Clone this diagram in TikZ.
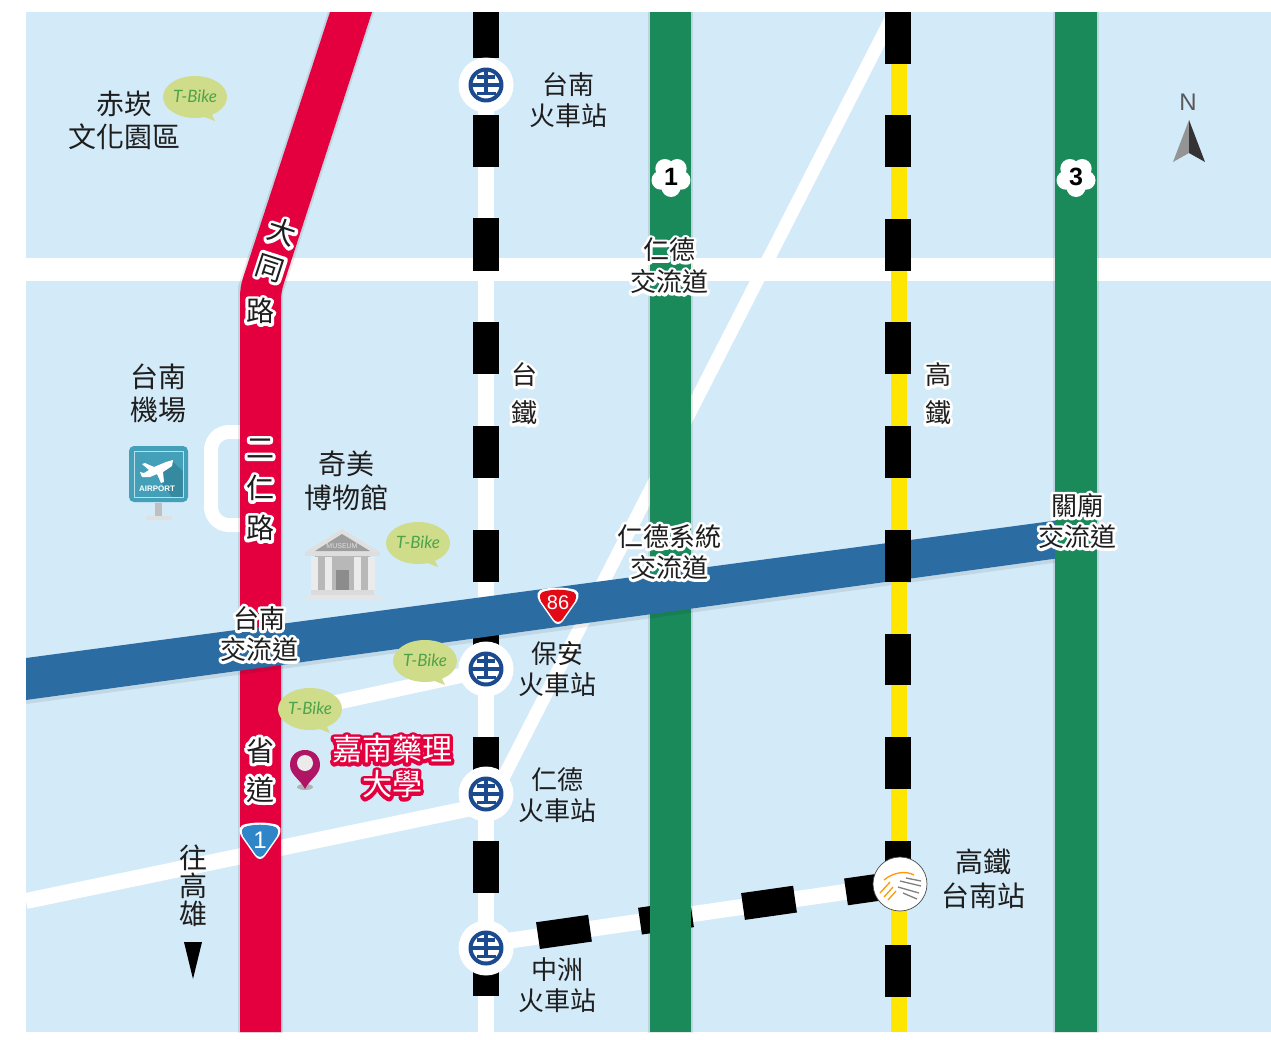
\documentclass[tikz,border=0pt]{standalone}
\usepackage{fontspec}
\setmainfont{Noto Sans CJK TC}
\newfontfamily\halofont[FakeBold=22]{Noto Sans CJK TC}
\newfontfamily\latinfont{Liberation Sans}
\newfontfamily\bikefont{Lato}
\usetikzlibrary{calc}
\definecolor{sky}{HTML}{D3EAF8}
\definecolor{roadgreen}{HTML}{1A8A5A}
\definecolor{roadred}{HTML}{E4003F}
\definecolor{roadblue}{HTML}{2B6CA3}
\definecolor{railyellow}{HTML}{FFE600}
\definecolor{trablue}{HTML}{1B4A8F}
\definecolor{bikegreen}{HTML}{CFDC8A}
\definecolor{biketext}{HTML}{4DA34A}
\definecolor{inktext}{HTML}{1E1E1E}
\definecolor{signblue}{HTML}{43A0B8}
\definecolor{signdark}{HTML}{368AA0}
\definecolor{pinred}{HTML}{B01464}
\definecolor{shieldred}{HTML}{E30A17}
\definecolor{shieldblue}{HTML}{2E86C8}
\tikzset{
  whiteroad/.style={white,line width=#1},
  plainlabel/.style={inner sep=0pt,align=center,text=inktext},
  halolabel/.style={inner sep=0pt,align=center,text=white},
  roadshade/.style={draw=black,draw opacity=.09,line width=4pt},
}
\newcommand\plainlbl[5]{\node[plainlabel,font=\fontsize{#3}{#4}\selectfont] (#2) at (#1) {#5};}
\newcommand\halolbl[5]{%
  \node[halolabel,font=\halofont\fontsize{#3}{#4}\selectfont] at (#1) {#5};
  \node[plainlabel,font=\fontsize{#3}{#4}\selectfont] (#2) at (#1) {#5};}
\newcommand\stationmark[2]{%
  \begin{scope}[shift={(#1)}]
    \node[circle,fill=white,minimum size=55pt,inner sep=0pt] (#2) at (0,0) {};
    \draw[trablue,line width=4pt] (0,0) circle (15.5);
    \draw[trablue,line width=3.4pt] (-16,0) -- (16,0) (-9,-8) -- (9,-8) (0,-16) -- (0,0)
      (0,0) -- (0,8.5) (-9.5,8.5) -- (9.5,8.5);
  \end{scope}}
\newcommand\bikebubble[3]{%
  \begin{scope}[shift={(#1)}]
    \fill[bikegreen] (0,0) ellipse (32 and 21);
    \fill[bikegreen] (2,17) -- (20,24) -- (14,12) -- cycle;
    \node[inner sep=0pt,text=biketext,font=\bikefont\itshape\fontsize{17}{17}\selectfont] (#2) at (0,-1) {#3};
  \end{scope}}
\newcommand\flowermark[3]{%
  \begin{scope}[shift={(#1)}]
    \foreach \a in {90,162,234,306,18} \fill[white] (\a:10.5) circle (9.5);
    \fill[white] (0,0) circle (10);
    \node[inner sep=0pt,text=black,font=\latinfont\bfseries\fontsize{25}{25}\selectfont] (#2) at (0,0) {#3};
  \end{scope}}
\newcommand\shieldpath{(-14,-17) .. controls (-5,-19) and (5,-19) .. (14,-17) .. controls (21,-16) and (22,-11) .. (19,-5)
  -- (5,15) .. controls (2,19) and (-2,19) .. (-5,15) -- (-19,-5) .. controls (-22,-11) and (-21,-16) .. (-14,-17) -- cycle}
\begin{document}
\begin{tikzpicture}[x=1pt,y=-1pt,line join=round]
\useasboundingbox (0,0) rectangle (1271,1039);
\fill[white] (0,0) rectangle (1271,1039);
\fill[sky] (26,12) rectangle (1271,1032);
% white roads
\fill[white] (26,258) rectangle (1271,281);
\draw[whiteroad=13pt] (893,15) -- (497,790);
\draw[whiteroad=16pt] (26,901) -- (486,805);
\draw[whiteroad=15pt] (320,706) -- (486,670);
\draw[whiteroad=14pt,rounded corners=18pt] (240,432) -- (211,432) -- (211,525) -- (240,525);
% railway (TRA)
\fill[white] (478,12) rectangle (494,1032);
\foreach \t/\b in {12/58,115/167,218/271,322/374,426/478,530/582,634/685,737/790,841/893,945/996}
  \fill[black] (473,\t) rectangle (499,\b);
% link to the high speed rail
\draw[whiteroad=16pt] (486,944) -- (900,884);
\foreach \a/\b in {538/590,640/692,743/795,846/880}
  \draw[black,line width=27pt] (\a,{943-(\a-486)*0.142}) -- (\b,{943-(\b-486)*0.142});
\begin{scope}
\clip (26,12) rectangle (1271,1032);
% green freeways
\path[roadshade] (650,12) rectangle (691,1032);
\path[roadshade] (1055,12) rectangle (1097,1032);
\fill[roadgreen] (650,12) rectangle (691,1032);
% red road
\path[roadshade] (240,1032) -- (240,287) -- (330,12) -- (372,12) -- (281,293) -- (281,1032) -- cycle;
\fill[roadred] (240,1032) -- (240,298) .. controls (240,290) and (241,284) .. (243,278)
  -- (330,12) -- (372,12) -- (284,283) .. controls (282,289) and (281,295) .. (281,300) -- (281,1032) -- cycle;
% blue expressway
\fill[black,opacity=.08] (26,700) -- (1060,558) -- (1060,562) -- (26,704) -- cycle;
\fill[roadblue] (26,658) -- (1060,520) -- (1060,558) -- (26,700) -- cycle;
\fill[roadgreen] (1055,12) rectangle (1097,1032);
\end{scope}
% high speed rail
\fill[railyellow] (891,12) rectangle (907,1032);
\foreach \t/\b in {12/64,115/167,219/271,322/374,426/478,530/582,634/685,737/789,841/893,945/997}
  \fill[black] (885,\t) rectangle (911,\b);
% stations
\stationmark{486,85}{staA}
\stationmark{486,669}{staB}
\stationmark{486,794}{staC}
\stationmark{486,948}{staD}
\node[circle,draw=black!70,line width=.7pt,fill=white,minimum size=54pt,inner sep=0pt] (hsr) at (900,884) {};
\draw[orange!80!yellow,line width=1.3pt] (884,880) .. controls (892,873) and (905,870) .. (914,875)
   (880,893) -- (890,882) (884,897) -- (893,887) (888,900) -- (896,891);
\draw[gray,line width=1.3pt] (900,881) -- (921,886) (898,887) -- (919,893) (903,893) -- (917,899) (906,878) -- (921,881);
% shields
\begin{scope}[shift={(558,606)}]
  \fill[white] \shieldpath;
  \begin{scope}[scale=.88]\fill[shieldred] \shieldpath;\end{scope}
  \node[inner sep=0pt,text=white,font=\latinfont\fontsize{20}{20}\selectfont] (sh86) at (0,-3) {86};
\end{scope}
\begin{scope}[shift={(260,841)}]
  \fill[white] \shieldpath;
  \begin{scope}[scale=.88]\fill[shieldblue] \shieldpath;\end{scope}
  \node[inner sep=0pt,text=white,font=\latinfont\fontsize{24}{24}\selectfont] (sh1) at (0,-1) {1};
\end{scope}
\flowermark{671,177}{flA}{1}
\flowermark{1076,177}{flB}{3}
% north arrow
\node[inner sep=0pt,text=black!65,font=\latinfont\fontsize{24}{24}\selectfont] (north) at (1188,102) {N};
\fill[black!42] (1189,120) -- (1173,162) -- (1189,153) -- cycle;
\fill[black!80] (1189,120) -- (1205,162) -- (1189,153) -- cycle;
% airport sign
\fill[black!25] (155,503) rectangle (162,516);
\fill[black!12] (146,516) rectangle (172,520);
\fill[signblue,rounded corners=5pt] (129,446) rectangle (188,502);
\fill[signdark] (158,478) -- (172,461) -- (183,471) -- (183,497) -- (172,497) -- cycle;
\draw[white!65!signblue,line width=1pt] (134,451) rectangle (183,497);
\fill[white] (173,460) -- (166,462) -- (154,467) -- (145,463) -- (142,464) -- (149,470) -- (144,473) -- (140,472) -- (142,477) -- (150,477) -- (157,474) -- (161,483) -- (164,482) -- (163,472) -- (172,466) -- cycle;
\node[inner sep=0pt,text=white,font=\latinfont\bfseries\fontsize{8}{8}\selectfont] (airport) at (157,489) {AIRPORT};
% museum
\fill[black!10] (305,595) rectangle (381,599);
\fill[black!14] (311,590) rectangle (374,595);
\fill[black!12] (342,529) -- (305,552) -- (380,552) -- cycle;
\fill[black!38] (342,534) -- (315,551) -- (370,551) -- cycle;
\fill[black!13] (305,552) rectangle (380,556);
\fill[black!28] (315,556) rectangle (370,590);
\fill[black!45] (336,570) rectangle (349,590);
\foreach \x in {311,325,354,368} \fill[black!8] (\x,557) rectangle (\x+7,590);
\node[inner sep=0pt,text=black!12,font=\latinfont\fontsize{7}{7}\selectfont] (museum) at (342,546) {MUSEUM};
% pin
\fill[black!30] (305,787) ellipse (8 and 3);
\fill[pinred] (305,789) .. controls (300,779) and (290,775) .. (290,765)
   .. controls (290,745) and (320,745) .. (320,765) .. controls (320,775) and (310,779) .. (305,789) -- cycle;
\fill[white!92!black] (305,763) circle (8);
% T-Bike
\bikebubble{195,97}{bikeA}{T-Bike}
\bikebubble{418,543}{bikeB}{T-Bike}
\bikebubble{425,661}{bikeC}{T-Bike}
\bikebubble{310,709}{bikeD}{T-Bike}
% triangle to the south
\fill[black] (184,942) -- (202,942) -- (193,979) -- cycle;
% labels
\plainlbl{124,120}{lbA}{28}{33}{赤崁\\文化園區}
\plainlbl{158,393}{lbB}{28}{33}{台南\\機場}
\plainlbl{346,481}{lbC}{28}{34}{奇美\\博物館}
\plainlbl{568,100}{lbD}{26}{31}{台南\\火車站}
\halolbl{524,394}{lbE}{26}{38}{台\\鐵}
\halolbl{938,394}{lbF}{26}{38}{高\\鐵}
\plainlbl{557,669}{lbG}{26}{31}{保安\\火車站}
\plainlbl{557,795}{lbH}{26}{31}{仁德\\火車站}
\plainlbl{557,985}{lbI}{26}{31}{中洲\\火車站}
\plainlbl{983,879}{lbJ}{28}{34}{高鐵\\台南站}
\plainlbl{193,886}{lbK}{28}{28}{往\\高\\雄}
\halolbl{669,266}{lbL}{26}{32}{仁德\\交流道}
\halolbl{669,552}{lbM}{26}{31}{仁德系統\\交流道}
\halolbl{1077,521}{lbN}{26}{31}{關廟\\交流道}
\halolbl{259,634}{lbO}{26}{31}{台南\\交流道}
% road names on the red road
\node[halolabel,rotate=-18,font=\halofont\fontsize{28}{28}\selectfont] at (282,232) {大};
\node[plainlabel,rotate=-18,font=\fontsize{28}{28}\selectfont] (rdA) at (282,232) {大};
\node[halolabel,rotate=-18,font=\halofont\fontsize{28}{28}\selectfont] at (270,268) {同};
\node[plainlabel,rotate=-18,font=\fontsize{28}{28}\selectfont] (rdB) at (270,268) {同};
\halolbl{260,311}{rdC}{28}{28}{路}
\halolbl{260,490}{rdD}{28}{40}{二\\仁\\路}
\halolbl{260,770}{rdE}{28}{39}{省\\道}
% university
\node[inner sep=0pt,align=center,text=roadred,font=\halofont\fontsize{30}{35}\selectfont] at (392,767) {嘉南藥理\\大學};
\node[inner sep=0pt,align=center,text=white,font=\fontsize{30}{35}\selectfont] (uni) at (392,767) {嘉南藥理\\大學};
\end{tikzpicture}
\end{document}
